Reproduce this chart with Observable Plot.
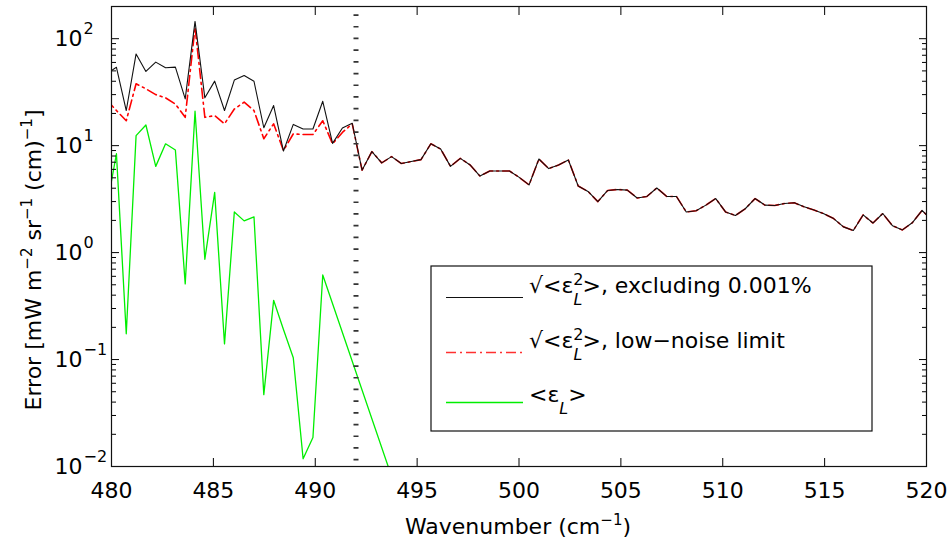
<!DOCTYPE html>
<html><head><meta charset="utf-8">
<script src="https://cdn.jsdelivr.net/npm/d3@7"></script>
<script src="https://cdn.jsdelivr.net/npm/@observablehq/plot@0.6"></script>
<style>body{margin:0;background:#fff} #chart svg{display:block}</style>
</head><body><div id="chart"></div>
<script>
// Sampling grid of the spectra (first sample lies just left of 480 cm^-1)
const firstWavenumber = 479.76;
const sampleStep = 0.4822;

// sqrt(<eps_L^2>), excluding 0.001%  (black)
const rmsExcluding = [47, 54, 21.3, 72, 49.4, 60.4, 53.5, 54.2, 27.4, 145, 28, 40.1, 21.3, 41, 45.3, 40, 14.7, 23.7, 8.9, 15.8, 14.3, 14.3, 26, 10.5, 14.6, 16.2, 5.9, 8.8, 6.9, 7.9, 6.8, 7.1, 7.4, 10.4, 9.3, 6.4, 7.6, 6.6, 5.2, 5.8, 5.8, 5.8, 5.05, 4.3, 7.5, 6.1, 6.6, 7.35, 4.2, 3.73, 3.0, 3.81, 3.89, 3.84, 3.24, 3.35, 4.02, 3.35, 3.35, 2.4, 2.46, 2.78, 3.2, 2.4, 2.22, 2.57, 3.2, 2.78, 2.76, 2.88, 2.92, 2.68, 2.5, 2.31, 2.08, 1.74, 1.61, 2.25, 1.89, 2.32, 1.78, 1.63, 1.9, 2.48, 2.0];

// sqrt(<eps_L^2>), low-noise limit  (red dash-dot)
const rmsLowNoise = [26.8, 21.3, 17.1, 37.9, 34, 30, 28, 24.5, 18.4, 128, 18.4, 19.1, 16, 22, 25.5, 21.3, 11.6, 16, 9.0, 12.9, 12.7, 12.7, 17.1, 10.4, 13.3, 16, 5.9, 8.8, 6.9, 7.9, 6.8, 7.1, 7.4, 10.4, 9.3, 6.4, 7.6, 6.6, 5.2, 5.8, 5.8, 5.8, 5.05, 4.3, 7.5, 6.1, 6.6, 7.35, 4.2, 3.73, 3.0, 3.81, 3.89, 3.84, 3.24, 3.35, 4.02, 3.35, 3.35, 2.4, 2.46, 2.78, 3.2, 2.4, 2.22, 2.57, 3.2, 2.78, 2.76, 2.88, 2.92, 2.68, 2.5, 2.31, 2.08, 1.74, 1.61, 2.25, 1.89, 2.32, 1.78, 1.63, 1.9, 2.48, 2.0];

// <eps_L>  (green); null = not plotted on the log axis
const meanError = [2.6, 8.4, 0.174, 12.4, 15.6, 6.4, 10.4, 9.1, 0.51, 21, 0.867, 3.65, 0.14, 2.4, 1.98, 2.16, 0.047, 0.358, 0.191, 0.104, 0.0118, 0.0187, 0.618, null, null, null, null, null, null, 0.0081];

const xTicks = [480, 485, 490, 495, 500, 505, 510, 515, 520];
const yDecades = [0.01, 0.1, 1, 10, 100];
const yExponents = ["\u22122", "\u22121", "0", "1", "2"];
const yMinor = [0.02,0.03,0.04,0.05,0.06,0.07,0.08,0.09, 0.2,0.3,0.4,0.5,0.6,0.7,0.8,0.9, 2,3,4,5,6,7,8,9, 20,30,40,50,60,70,80,90];
const boundaryWavenumber = [492];

const toRows = arr => arr.map((v, i) => ({x: firstWavenumber + i * sampleStep, y: v})).filter(d => d.y != null);
const blackRows = toRows(rmsExcluding);
const redRows = toRows(rmsLowNoise);
const greenRows = toRows(meanError);

const FONT = "DejaVu Sans";

const plot = Plot.plot({
  width: 950,
  height: 542,
  marginLeft: 111,
  marginRight: 24,
  marginTop: 6,
  marginBottom: 76,
  style: {fontFamily: FONT, fontSize: "22px", background: "white", color: "black"},
  x: {domain: [480, 520], label: null},
  y: {type: "log", domain: [0.01, 200], label: null},
  marks: [
    Plot.line(redRows, {x: "x", y: "y", stroke: "#ff0000", strokeWidth: 1.6, strokeDasharray: "10,4,2,4", clip: true}),
    Plot.line(blackRows, {x: "x", y: "y", stroke: "#111", strokeWidth: 1.1, clip: true}),
    Plot.line(greenRows, {x: "x", y: "y", stroke: "#00ee00", strokeWidth: 1.3, clip: true}),
    Plot.ruleX(boundaryWavenumber, {stroke: "#333", strokeWidth: 5, strokeDasharray: "1.7,10", strokeDashoffset: 3.5}),
    // tick labels
    Plot.axisX({anchor: "bottom", ticks: xTicks, tickSize: 0, tickPadding: 16, tickFormat: d => String(d), fontSize: 22, label: null}),
    Plot.axisY({anchor: "left", ticks: yDecades, tickSize: 0, tickPadding: 29, tickFormat: () => "10", fontSize: 22, label: null}),
    Plot.text(yDecades, {y: d => d, frameAnchor: "left", dx: -28, dy: -10, textAnchor: "start", fontSize: 16, text: (d, i) => yExponents[i]}),
    // inward ticks on all four sides
    Plot.axisX({anchor: "bottom", ticks: xTicks, tickSize: 8, dy: -8, fill: "none", label: null}),
    Plot.axisX({anchor: "top", ticks: xTicks, tickSize: 8, dy: 8, fill: "none", label: null}),
    Plot.axisY({anchor: "left", ticks: yDecades, tickSize: 8, dx: 8, fill: "none", label: null}),
    Plot.axisY({anchor: "left", ticks: yMinor, tickSize: 5, dx: 5, fill: "none", label: null}),
    Plot.axisY({anchor: "right", ticks: yDecades, tickSize: 8, dx: -8, fill: "none", label: null}),
    Plot.axisY({anchor: "right", ticks: yMinor, tickSize: 5, dx: -5, fill: "none", label: null}),
    Plot.frame({stroke: "#111", strokeWidth: 1.2})
  ]
});

document.getElementById("chart").appendChild(plot);
const svg = d3.select(plot);

// Axis titles with superscripts
const xt = svg.append("text").attr("x", 518).attr("y", 534).attr("text-anchor", "middle")
  .attr("font-family", FONT).attr("font-size", 22).attr("fill", "black");
xt.append("tspan").text("Wavenumber (cm");
xt.append("tspan").attr("dy", -9).attr("font-size", 15).text("\u22121");
xt.append("tspan").attr("dy", 9).text(")");

const yt = svg.append("text").attr("transform", "translate(41,260) rotate(-90)").attr("text-anchor", "middle")
  .attr("font-family", FONT).attr("font-size", 22).attr("fill", "black");
yt.append("tspan").text("Error [mW m");
yt.append("tspan").attr("dy", -9).attr("font-size", 15).text("\u22122");
yt.append("tspan").attr("dy", 9).text(" sr");
yt.append("tspan").attr("dy", -9).attr("font-size", 15).text("\u22121");
yt.append("tspan").attr("dy", 9).text(" (cm)");
yt.append("tspan").attr("dy", -9).attr("font-size", 15).text("\u22121");
yt.append("tspan").attr("dy", 9).text("]");

// Legend
const lg = svg.append("g").attr("font-family", FONT).attr("font-size", 22).attr("fill", "black")
  .attr("text-anchor", "start");
lg.append("rect").attr("x", 431).attr("y", 266).attr("width", 441).attr("height", 165)
  .attr("fill", "white").attr("stroke", "#111").attr("stroke-width", 1.2);
const legendItems = [
  {lineY: 297.5, baseY: 293, stroke: "#111", width: 1.2, dash: null, kind: "rms", tail: ">, excluding 0.001%"},
  {lineY: 352.5, baseY: 348, stroke: "#ff3030", width: 1.5, dash: "10,4,2,4", kind: "rms", tail: ">, low\u2212noise limit"},
  {lineY: 402.5, baseY: 402, stroke: "#00ee00", width: 1.3, dash: null, kind: "mean", tail: ">"}
];
legendItems.forEach(it => {
  lg.append("line").attr("x1", 446).attr("x2", 523).attr("y1", it.lineY).attr("y2", it.lineY)
    .attr("stroke", it.stroke).attr("stroke-width", it.width).attr("stroke-dasharray", it.dash);
  const t = lg.append("text").attr("x", 529).attr("y", it.baseY).attr("text-anchor", "start");
  if (it.kind === "rms") {
    t.append("tspan").text("\u221A<\u03B5");
    t.append("tspan").attr("dy", -8).attr("font-size", 16).text("2");
    t.append("tspan").attr("dx", -10).attr("dy", 20).attr("font-size", 16).attr("font-style", "italic").text("L");
    t.append("tspan").attr("dy", -12).text(it.tail);
  } else {
    t.append("tspan").text("<\u03B5");
    t.append("tspan").attr("dy", 12).attr("font-size", 16).attr("font-style", "italic").text("L");
    t.append("tspan").attr("dy", -12).text(it.tail);
  }
});
</script>
</body></html>
